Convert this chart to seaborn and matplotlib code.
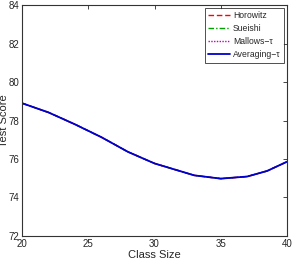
import numpy as np
import pandas as pd
import matplotlib
matplotlib.use("Agg")
import matplotlib.pyplot as plt
import seaborn as sns

# values (all four methods overlap)
class_size = [20, 22, 24, 26, 28, 30, 31.5, 33, 35, 37, 38.5, 40]
horowitz = [78.9, 78.42, 77.8, 77.13, 76.37, 75.77, 75.46, 75.15, 74.98, 75.09, 75.38, 75.86]
sueishi = [78.9, 78.42, 77.8, 77.13, 76.37, 75.77, 75.46, 75.15, 74.98, 75.09, 75.38, 75.86]
mallows = [78.9, 78.42, 77.8, 77.13, 76.37, 75.77, 75.46, 75.15, 74.98, 75.09, 75.38, 75.86]
averaging = [78.9, 78.42, 77.8, 77.13, 76.37, 75.77, 75.46, 75.15, 74.98, 75.09, 75.38, 75.86]

methods = ["Horowitz", "Sueishi", "Mallows\u2212\u03c4", "Averaging\u2212\u03c4"]
colors = ["#ff0000", "#00a000", "#c000c0", "#0000cc"]
styles = [(0, (4, 2)), (0, (4, 1.5, 1, 1.5)), (0, (1, 1)), "-"]
widths = [1.0, 1.0, 1.0, 1.3]

sns.set_style("white")
plt.rcParams["font.family"] = ["Liberation Sans", "DejaVu Sans"]

fig = plt.figure(figsize=(2.92, 2.61), dpi=100)
ax = fig.add_axes([0.0753, 0.0958, 0.9077, 0.885])

series = [horowitz, sueishi, mallows, averaging]
for name, vals, c, ls, lw in zip(methods, series, colors, styles, widths):
    df = pd.DataFrame({"x": class_size, "y": vals})
    sns.lineplot(data=df, x="x", y="y", ax=ax, color=c, linestyle=ls,
                 linewidth=lw, label=name)

ax.set_xlim(20, 40)
ax.set_ylim(72, 84)
ax.set_xticks([20, 25, 30, 35, 40])
ax.set_yticks([72, 74, 76, 78, 80, 82, 84])
ax.tick_params(direction="in", top=True, right=True, labelsize=7,
               length=3, width=0.6, pad=2)
for s in ax.spines.values():
    s.set_linewidth(0.8)
    s.set_color("#333333")
ax.set_xlabel("Class Size", fontsize=8, labelpad=1)
ax.set_ylabel("Test Score", fontsize=8, labelpad=0)
ax.yaxis.set_label_coords(-0.05, 0.5)

leg = ax.legend(loc="upper right", fontsize=6.2, frameon=True, fancybox=False,
                handlelength=2.6, handletextpad=0.3, borderpad=0.4,
                labelspacing=0.45, borderaxespad=0.35)
leg.get_frame().set_edgecolor("black")
leg.get_frame().set_linewidth(0.6)

fig.savefig("out.png", dpi=100)
